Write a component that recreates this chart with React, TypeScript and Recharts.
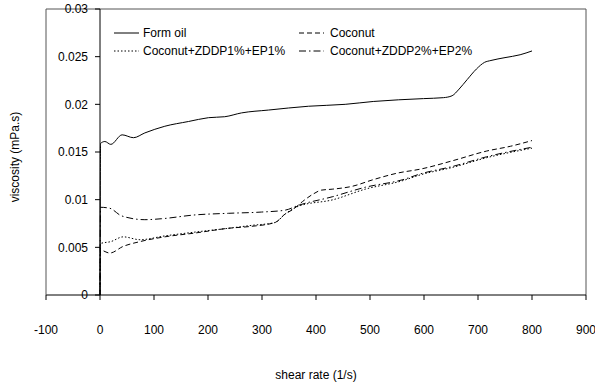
import React from 'react';
import { LineChart, Line, XAxis, YAxis, ReferenceLine } from 'recharts';

// ---- data ----
const xTicks = [-100, 0, 100, 200, 300, 400, 500, 600, 700, 800, 900];
const yTicks = [0, 0.005, 0.01, 0.015, 0.02, 0.025, 0.03];

const formOilX = [0, 1, 9, 20, 41, 62, 83, 120, 164, 201, 231, 262, 312, 386, 454, 506, 599, 636, 652, 665, 680, 697, 712, 724, 750, 778, 800];
const formOilY = [0, 0.0159, 0.0161, 0.0158, 0.0168, 0.0165, 0.0170, 0.0177, 0.0182, 0.0186, 0.0187, 0.0191, 0.0194, 0.0198, 0.0200, 0.0203, 0.0206, 0.0207, 0.0209, 0.0216, 0.0226, 0.0237, 0.0244, 0.0246, 0.0249, 0.0252, 0.0256];

const coconutX = [0, 1, 18, 43, 74, 120, 176, 238, 280, 324, 343, 358, 375, 395, 410, 430, 467, 506, 552, 593, 654, 716, 760, 800];
const coconutY = [0, 0.0047, 0.0044, 0.0051, 0.0056, 0.0061, 0.0065, 0.0070, 0.0072, 0.0076, 0.0085, 0.0090, 0.0098, 0.0106, 0.0110, 0.0111, 0.0114, 0.0121, 0.0128, 0.0132, 0.0141, 0.0151, 0.0156, 0.0162];

const zddp1X = [0, 1, 20, 43, 74, 120, 176, 238, 280, 324, 343, 367, 432, 491, 561, 593, 654, 716, 800];
const zddp1Y = [0, 0.0054, 0.0056, 0.0061, 0.0058, 0.0062, 0.0066, 0.0070, 0.0073, 0.0076, 0.0085, 0.0093, 0.0100, 0.0111, 0.0120, 0.0126, 0.0134, 0.0144, 0.0154];

const zddp2X = [0, 1, 18, 40, 83, 114, 176, 238, 299, 343, 367, 430, 491, 561, 593, 654, 716, 800];
const zddp2Y = [0, 0.0092, 0.0091, 0.0083, 0.0079, 0.0080, 0.0084, 0.00857, 0.0087, 0.0089, 0.0094, 0.0103, 0.0113, 0.0121, 0.0127, 0.0135, 0.0145, 0.0155];

const seriesNames = ['Form oil', 'Coconut', 'Coconut+ZDDP1%+EP1%', 'Coconut+ZDDP2%+EP2%'];

const mk = (xs: number[], ys: number[]) => xs.map((x, i) => ({ x, v: ys[i] }));

const series = [
  { name: seriesNames[0], data: mk(formOilX, formOilY), dash: undefined as string | undefined },
  { name: seriesNames[1], data: mk(coconutX, coconutY), dash: '5 3' },
  { name: seriesNames[2], data: mk(zddp1X, zddp1Y), dash: '1.5 2' },
  { name: seriesNames[3], data: mk(zddp2X, zddp2Y), dash: '7 3 1.5 3' },
];

// ---- layout ----
const W = 595;
const H = 388;
const Y_AXIS_W = 46;
const margin = { top: 9, right: 9, left: 0, bottom: 0 };
const X_MIN = -100;
const X_MAX = 900;
const Y_MAX = 0.03;
const plotW = W - Y_AXIS_W - margin.left - margin.right;
const zeroX = Y_AXIS_W + margin.left + (plotW * (0 - X_MIN)) / (X_MAX - X_MIN);
const FONT = '"Liberation Sans", Arial, sans-serif';

const YTick = (props: any) => {
  const { y, payload } = props;
  return (
    <g>
      <line x1={zeroX - 5} x2={zeroX} y1={y} y2={y} stroke="#000" strokeWidth={1} />
      <text x={zeroX - 12} y={y} dy="0.35em" textAnchor="end" fontSize={12} fill="#000" fontFamily={FONT}>
        {String(payload.value)}
      </text>
    </g>
  );
};

const legendLayout = [
  { idx: 0, left: 114, top: 33 },
  { idx: 1, left: 299, top: 33 },
  { idx: 2, left: 114, top: 51 },
  { idx: 3, left: 299, top: 51 },
];

const LegendBox = () => (
  <>
    {legendLayout.map((l) => {
      const s = series[l.idx];
      return (
        <div
          key={s.name}
          style={{
            position: 'absolute',
            left: l.left,
            top: l.top - 8,
            height: 16,
            display: 'flex',
            alignItems: 'center',
            fontFamily: FONT,
            fontSize: 12,
            color: '#000',
            whiteSpace: 'nowrap',
          }}
        >
          <svg width={25} height={16} style={{ display: 'block' }}>
            <line x1={0} x2={25} y1={8} y2={8} stroke="#000" strokeWidth={1} strokeDasharray={s.dash} />
          </svg>
          <span style={{ marginLeft: l.idx % 2 === 0 ? 4 : 6 }}>{s.name}</span>
        </div>
      );
    })}
  </>
);

export default function App() {
  return (
    <div style={{ position: 'absolute', left: 0, top: 0, width: W, height: H, background: '#fff' }}>
      <LineChart width={W} height={H} margin={margin} style={{ fontFamily: FONT }}>
        <XAxis
          type="number"
          dataKey="x"
          domain={[X_MIN, X_MAX]}
          ticks={xTicks}
          allowDuplicatedCategory={false}
          height={93}
          tickSize={5}
          tickMargin={25}
          axisLine={{ stroke: '#000' }}
          tickLine={{ stroke: '#000' }}
          tick={{ fontSize: 12, fill: '#000', fontFamily: FONT }}
          interval={0}
          label={{
            content: () => (
              <text x={316} y={375} dy="0.35em" textAnchor="middle" fontSize={12} fill="#000" fontFamily={FONT}>
                shear rate (1/s)
              </text>
            ),
          }}
        />
        <YAxis
          type="number"
          domain={[0, Y_MAX]}
          ticks={yTicks}
          width={Y_AXIS_W}
          axisLine={{ stroke: '#555' }}
          tickLine={false}
          tick={<YTick />}
          interval={0}
          label={{
            content: () => (
              <text
                x={15}
                y={157}
                dy="0.35em"
                textAnchor="middle"
                fontSize={12}
                fill="#000"
                fontFamily={FONT}
                transform="rotate(-90 15 157)"
              >
                viscosity (mPa.s)
              </text>
            ),
          }}
        />
        <ReferenceLine y={Y_MAX} stroke="#555" strokeWidth={1} />
        <ReferenceLine x={X_MAX} stroke="#555" strokeWidth={1} />
        <ReferenceLine x={0} stroke="#000" strokeWidth={1} />
        {series.map((s) => (
          <Line
            key={s.name}
            name={s.name}
            data={s.data}
            dataKey="v"
            type="monotone"
            stroke="#000"
            strokeWidth={1}
            strokeDasharray={s.dash}
            dot={false}
            activeDot={false}
            isAnimationActive={false}
          />
        ))}
      </LineChart>
      <LegendBox />
    </div>
  );
}
